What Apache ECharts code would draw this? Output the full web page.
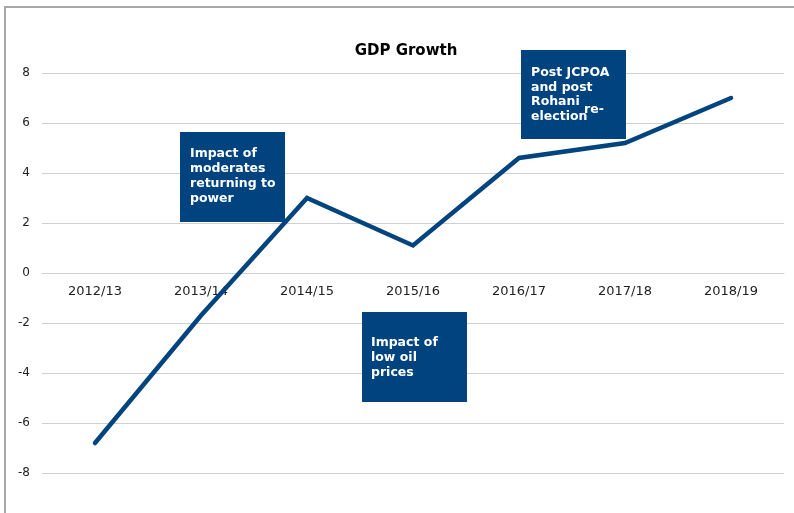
<!DOCTYPE html>
<html>
<head>
<meta charset="utf-8">
<script src="https://cdn.jsdelivr.net/npm/echarts@6/dist/echarts.min.js"></script>
<style>
html,body{margin:0;padding:0;background:#fff;}
#chart{width:794px;height:513px;}
</style>
</head>
<body>
<div id="chart"></div>
<script>
var categories = ['2012/13','2013/14','2014/15','2015/16','2016/17','2017/18','2018/19'];
var gdpGrowth = [-6.8, -1.7, 3.0, 1.1, 4.6, 5.2, 7.0];
var yTicks = [-8, -6, -4, -2, 0, 2, 4, 6, 8];

var boxColor = '#00437F';
var font = 'DejaVu Sans, Verdana, sans-serif';
var boxFont = 'bold 12.5px ' + font;

function box(x, y, w, h, lines, tx, ty, lh) {
  var els = [{
    type: 'rect', z: 100, shape: {x: x, y: y, width: w, height: h},
    style: {fill: boxColor}
  }];
  lines.forEach(function (t, i) {
    els.push({
      type: 'text', z: 101,
      style: {text: t, x: tx, y: ty + i * lh, fill: '#fff',
        font: boxFont, textVerticalAlign: 'middle'}
    });
  });
  return els;
}

var graphics = [
  {type: 'line', z: 100, shape: {x1: 5, y1: 513, x2: 5, y2: 7}, style: {stroke: '#a8a8a8', lineWidth: 2}},
  {type: 'line', z: 100, shape: {x1: 4, y1: 7, x2: 794, y2: 7}, style: {stroke: '#a8a8a8', lineWidth: 2}}
].concat(
  box(180, 132, 105, 90, ['Impact of', 'moderates', 'returning to', 'power'], 190, 154, 15),
  box(521, 50, 105, 89, ['Post JCPOA', 'and post', 'Rohani'], 531, 73, 14.3),
  [
    {type: 'text', z: 101, style: {text: 're-', x: 584, y: 110, fill: '#fff', font: boxFont, textVerticalAlign: 'middle'}},
    {type: 'text', z: 101, style: {text: 'election', x: 531, y: 116.5, fill: '#fff', font: boxFont, textVerticalAlign: 'middle'}}
  ],
  box(362, 312, 105, 90, ['Impact of', 'low oil', 'prices'], 371, 343, 14.8)
);

var chart = echarts.init(document.getElementById('chart'));
chart.setOption({
  animation: false,
  title: {
    text: 'GDP Growth', left: 401, top: 39, textAlign: 'center',
    textStyle: {fontFamily: font, fontWeight: 'bold', fontSize: 15, color: '#000'}
  },
  grid: {left: 42, right: 10, top: 73, bottom: 40},
  xAxis: {
    type: 'category', data: categories, boundaryGap: true,
    position: 'bottom', offset: -200, z: 1,
    axisLine: {onZero: false, lineStyle: {color: '#d0d0d0', width: 1}},
    axisTick: {show: false},
    axisLabel: {fontFamily: font, fontSize: 13, color: '#222', margin: 12}
  },
  yAxis: {
    type: 'value', min: yTicks[0], max: yTicks[yTicks.length - 1], interval: 2, z: 1,
    axisLine: {show: false}, axisTick: {show: false},
    splitLine: {lineStyle: {color: '#d0d0d0', width: 1}},
    axisLabel: {fontFamily: font, fontSize: 12, color: '#222', margin: 12}
  },
  series: [{
    type: 'line', data: gdpGrowth, symbol: 'none', z: 50,
    lineStyle: {color: '#01447E', width: 4.5, cap: 'round', join: 'miter'}
  }],
  graphic: {elements: graphics}
});
</script>
</body>
</html>
